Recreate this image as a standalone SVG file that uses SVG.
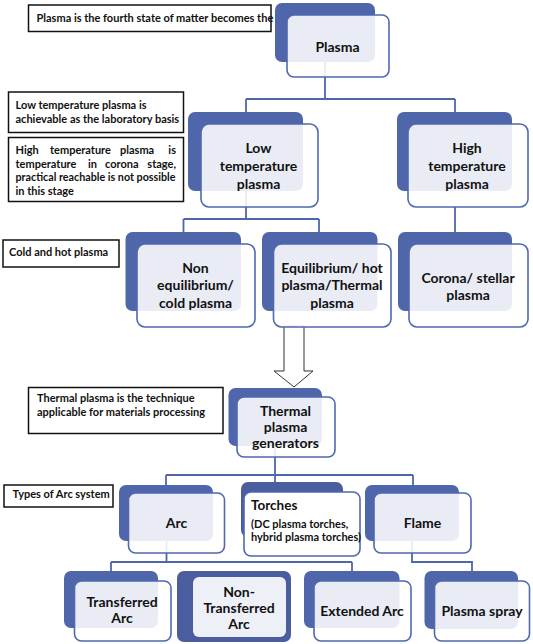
<svg xmlns="http://www.w3.org/2000/svg" width="533" height="644" viewBox="0 0 533 644">
<style>
.bk{fill:#4f66ab}
.bk2{fill:#4a5d9f}
.fr{fill:#ffffff;fill-opacity:0.88;stroke:#4f68b0;stroke-width:1.6}
.frw{fill:#ffffff;stroke:#4f68b0;stroke-width:1.6}
.in{fill:#eef0f8}
.lb{fill:#ffffff;stroke:#111111;stroke-width:1.5}
.cn{fill:none;stroke:#4f66ab;stroke-width:1.8}
text{font-family:Lato,"Liberation Sans",sans-serif;font-weight:bold;fill:#111111}
.nt{font-size:14px;text-anchor:middle}
.lt{font-size:11px}
.tt{font-size:11px}
</style>
<rect width="533" height="644" fill="#ffffff"/>
<g id="connectors">
<path class="cn" d="M325,62 V99 M246,99 H455 M246,99 V112 M455,99 V112"/>
<path class="cn" d="M246,191 V219 M183.5,219 H319 M183.5,219 V232 M319,219 V232 M455,207 V232"/>
<path class="cn" d="M275,446 V475 M166,475 H413 M166,475 V485 M275,475 V482 M413,475 V485"/>
<path class="cn" d="M166.5,541 V562 M111,562 H352 M111,562 V571 M352,562 V571"/>
<path class="cn" d="M412,541 V562 H472 V571"/>
<polygon points="284,326 304,326 304,371 313,371 294,387 274,371 284,371" fill="#ffffff" stroke="#333333" stroke-width="1"/>
</g>
<g id="label-fourth-state">
<rect class="lb" x="28.5" y="5" width="242.5" height="26.5"/>
<text class="lt" x="36.5" y="21.5">Plasma is the fourth state of matter becomes the</text>
</g>
<g id="label-low-temp">
<rect class="lb" x="8.5" y="92" width="175" height="40.5"/>
<text class="lt" x="15.5" y="108.5">Low temperature plasma is</text>
<text class="lt" x="15.5" y="122.5">achievable as the laboratory basis</text>
</g>
<g id="label-high-temp">
<rect class="lb" x="8.5" y="137.5" width="175" height="64"/>
<text class="lt" x="15.5" y="154">High</text>
<text class="lt" x="50" y="154">temperature</text>
<text class="lt" x="120" y="154">plasma</text>
<text class="lt" x="176" y="154" text-anchor="end">is</text>
<text class="lt" x="15.5" y="167.5">temperature</text>
<text class="lt" x="88" y="167.5">in</text>
<text class="lt" x="105" y="167.5">corona</text>
<text class="lt" x="176" y="167.5" text-anchor="end">stage,</text>
<text class="lt" x="15.5" y="181" textLength="160" lengthAdjust="spacingAndGlyphs">practical reachable is not possible</text>
<text class="lt" x="15.5" y="194.5">in this stage</text>
</g>
<g id="label-cold-hot">
<rect class="lb" x="3" y="240" width="116" height="27"/>
<text class="lt" x="9" y="256">Cold and hot plasma</text>
</g>
<g id="label-thermal">
<rect class="lb" x="28.5" y="387.5" width="194.5" height="46"/>
<text class="lt" x="37" y="402">Thermal plasma is the technique</text>
<text class="lt" x="37" y="416">applicable for materials processing</text>
</g>
<g id="label-types-arc">
<rect class="lb" x="4" y="485" width="109" height="22"/>
<text class="lt" x="12.5" y="498">Types of Arc system</text>
</g>
<g id="node-plasma">
<rect class="bk" x="275" y="3" width="100" height="59" rx="7"/>
<rect class="fr" x="287" y="15" width="102" height="62" rx="7"/>
<text class="nt" x="337.5" y="52" font-size="14.5px">Plasma</text>
</g>
<g id="node-low-temp">
<rect class="bk" x="188" y="112" width="115" height="79" rx="7"/>
<rect class="fr" x="201" y="124" width="117" height="83" rx="8"/>
<text class="nt" x="258.5" y="153">Low</text>
<text class="nt" x="258.5" y="171">temperature</text>
<text class="nt" x="258.5" y="188.5">plasma</text>
</g>
<g id="node-high-temp">
<rect class="bk" x="397" y="112" width="115" height="79" rx="7"/>
<rect class="fr" x="408" y="124" width="120" height="83" rx="8"/>
<text class="nt" x="467" y="153">High</text>
<text class="nt" x="467" y="171">temperature</text>
<text class="nt" x="467" y="188.5">plasma</text>
</g>
<g id="node-non-equilibrium">
<rect class="bk" x="125.5" y="232" width="115.5" height="79" rx="7"/>
<rect class="fr" x="137" y="244" width="118" height="83" rx="8"/>
<text class="nt" x="195.5" y="272.5">Non</text>
<text class="nt" x="195.5" y="290">equilibrium/</text>
<text class="nt" x="195.5" y="307.5">cold plasma</text>
</g>
<g id="node-equilibrium">
<rect class="bk" x="262" y="232" width="115.5" height="79" rx="7"/>
<rect class="fr" x="273.5" y="244" width="117.5" height="83" rx="8"/>
<text class="nt" x="332" y="272.5">Equilibrium/ hot</text>
<text class="nt" x="332" y="290">plasma/Thermal</text>
<text class="nt" x="332" y="307.5">plasma</text>
</g>
<g id="node-corona">
<rect class="bk" x="398" y="232" width="114" height="79" rx="7"/>
<rect class="fr" x="409" y="244" width="119" height="83" rx="8"/>
<text class="nt" x="468" y="282.5">Corona/ stellar</text>
<text class="nt" x="468" y="300">plasma</text>
</g>
<g id="node-thermal-generators">
<rect class="bk" x="228.5" y="388" width="93.5" height="58" rx="7"/>
<rect class="fr" x="237" y="397" width="98" height="60" rx="7"/>
<text class="nt" x="285.5" y="416" font-size="13.5px">Thermal</text>
<text class="nt" x="285.5" y="431.5" font-size="13.5px">plasma</text>
<text class="nt" x="285.5" y="447.5" font-size="13.5px">generators</text>
</g>
<g id="node-arc">
<rect class="bk" x="119" y="485" width="94" height="56" rx="7"/>
<rect class="fr" x="128.5" y="493" width="96" height="60" rx="7"/>
<text class="nt" x="176.5" y="528">Arc</text>
</g>
<g id="node-torches">
<rect class="bk2" x="241" y="482" width="102" height="55" rx="7"/>
<rect class="frw" x="244" y="492" width="116" height="64" rx="7"/>
<text x="251" y="510" font-size="13.5px">Torches</text>
<text class="tt" x="251" y="528">(DC plasma torches,</text>
<text class="tt" x="251" y="541">hybrid plasma torches)</text>
</g>
<g id="node-flame">
<rect class="bk" x="365" y="485" width="94" height="56" rx="7"/>
<rect class="fr" x="374" y="493" width="97" height="60" rx="7"/>
<text class="nt" x="422.5" y="528">Flame</text>
</g>
<g id="node-transferred">
<rect class="bk" x="64" y="571" width="94" height="57" rx="7"/>
<rect class="fr" x="74.5" y="581" width="96.5" height="60" rx="7"/>
<text class="nt" x="122" y="607">Transferred</text>
<text class="nt" x="122" y="622.5">Arc</text>
</g>
<g id="node-non-transferred">
<rect class="bk2" x="177" y="571" width="114" height="71" rx="7"/>
<rect class="in" x="193" y="577" width="93" height="60" rx="6"/>
<text class="nt" x="239" y="597">Non-</text>
<text class="nt" x="239" y="612.5">Transferred</text>
<text class="nt" x="239" y="628.5">Arc</text>
</g>
<g id="node-extended-arc">
<rect class="bk" x="304" y="571" width="95.5" height="57" rx="7"/>
<rect class="fr" x="314" y="581" width="97" height="60" rx="7"/>
<text class="nt" x="362" y="615.5">Extended Arc</text>
</g>
<g id="node-plasma-spray">
<rect class="bk" x="424.5" y="571" width="93.5" height="58" rx="7"/>
<rect class="fr" x="434.5" y="581" width="95" height="60" rx="7"/>
<text class="nt" x="482" y="616">Plasma spray</text>
</g>
</svg>
